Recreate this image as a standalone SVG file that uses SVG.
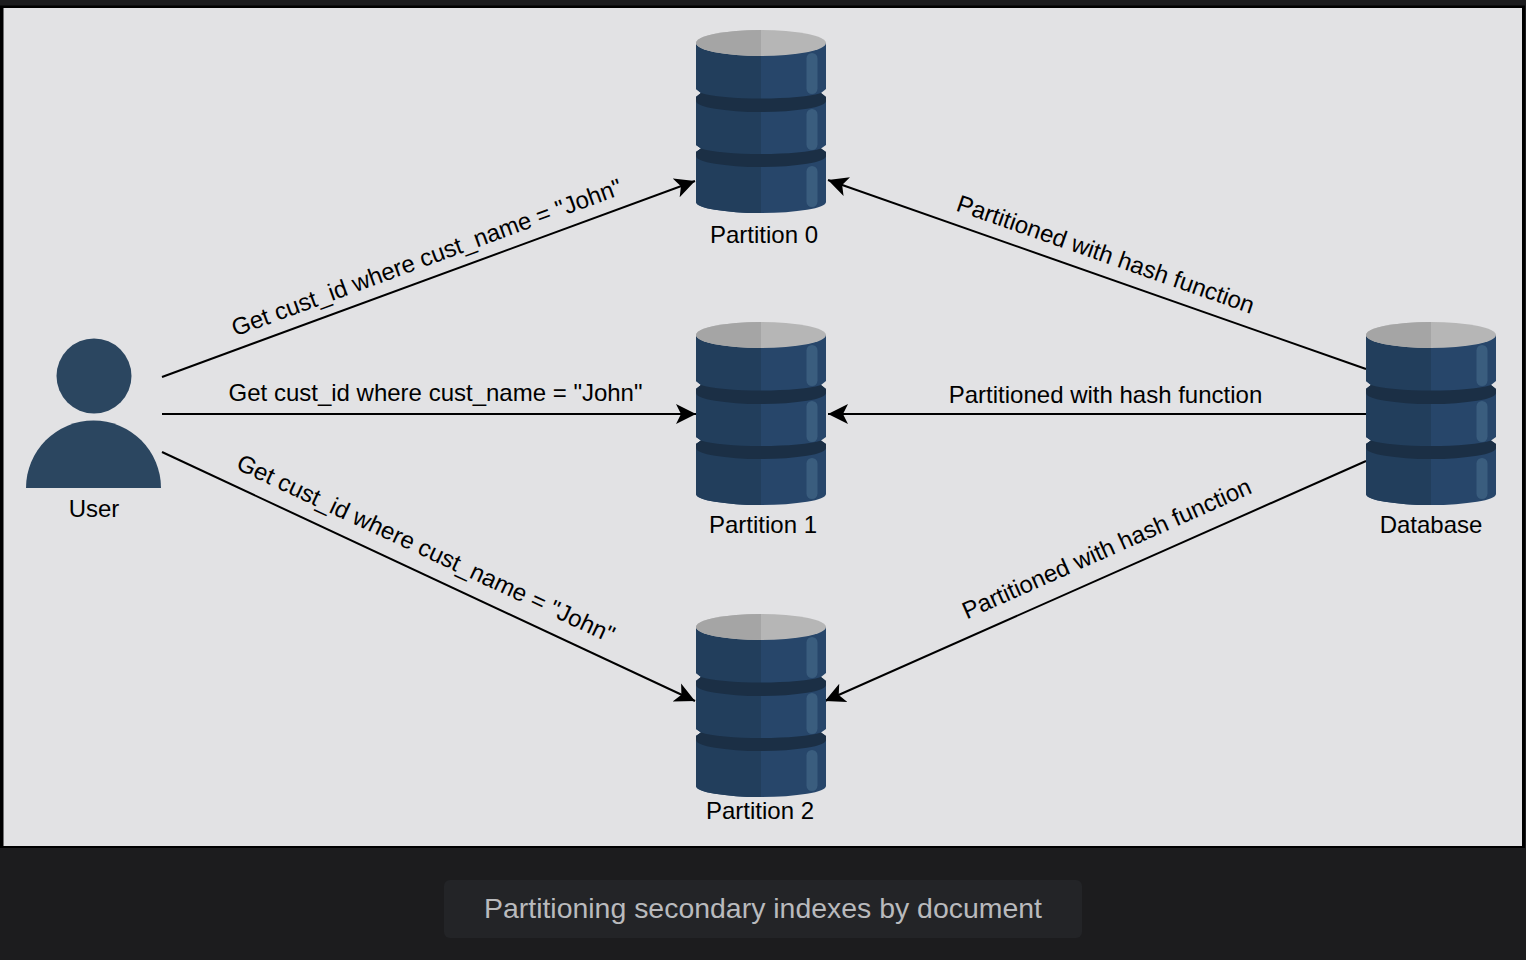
<svg xmlns="http://www.w3.org/2000/svg" width="1526" height="960" viewBox="0 0 1526 960">
<style>
text{font-family:"Liberation Sans",Arial,sans-serif;font-size:24px;fill:#000;text-anchor:middle}
.c{fill:none;stroke:#000;stroke-width:2;marker-end:url(#a)}
.hl{fill:#3a5d7e}
.band{fill:#1b2f45}
</style>
<defs>
<marker id="a" markerUnits="userSpaceOnUse" markerWidth="24" markerHeight="22" refX="20" refY="10" orient="auto" viewBox="0 0 24 20"><path d="M20 10 L0 0 L5 10 L0 20 Z" fill="#000"/></marker>
<symbol id="cyl" width="130" height="184" viewBox="0 0 130 184" overflow="visible">
<path d="M0 13V59L5 63L0 67V115L5 118.500L0 122V172A65 11 0 0 0 130 172V122L125 118.500L130 115V67L125 63L130 59V13Z" fill="#27466a"/>
<path d="M0 13V59L5 63L0 67V115L5 118.500L0 122V172A65 11 0 0 0 65 183V13Z" fill="#223e5c"/>
<path class="band" d="M0 67L5 63A65 9 0 0 0 125 63L130 67V71A65 11 0 0 1 0 71Z"/>
<path class="band" d="M0 122L5 118.500A65 9 0 0 0 125 118.500L130 122V126A65 11 0 0 1 0 126Z"/>
<rect class="hl" x="110.500" y="23" width="11" height="41" rx="5.500"/>
<rect class="hl" x="110.500" y="79" width="11" height="41" rx="5.500"/>
<rect class="hl" x="110.500" y="136" width="11" height="41" rx="5.500"/>
<ellipse cx="65" cy="13" rx="65" ry="13" fill="#b6b6b6"/>
<path d="M65 0A65 13 0 0 0 65 26Z" fill="#a5a5a5"/>
</symbol>
</defs>
<rect width="1526" height="960" fill="#1c1c1e"/>
<rect x="0" y="5.500" width="1525" height="842.500" fill="#000"/>
<rect x="3.500" y="8" width="1518.500" height="838" fill="#e2e2e4"/>
<g id="connectors">
<path class="c" d="M162 377L695 181"/>
<path class="c" d="M162 414H696"/>
<path class="c" d="M162 452L695 701"/>
<path class="c" d="M1366 369L828 180"/>
<path class="c" d="M1366 414H828"/>
<path class="c" d="M1366 461L825 701"/>
<text transform="translate(429.500 265) rotate(-20.200)">Get cust_id where cust_name = "John"</text>
<text x="435.500" y="401">Get cust_id where cust_name = "John"</text>
<text transform="translate(422.500 556) rotate(25)">Get cust_id where cust_name = "John"</text>
<text transform="translate(1103 262) rotate(19.300)">Partitioned with hash function</text>
<text x="1105.500" y="403">Partitioned with hash function</text>
<text transform="translate(1110 556) rotate(-23.900)">Partitioned with hash function</text>
</g>
<g id="user">
<circle cx="94" cy="376" r="37.500" fill="#2b4660"/>
<path d="M26 488A67.500 67.500 0 0 1 161 488Z" fill="#2b4660"/>
<text x="94" y="517">User</text>
</g>
<g id="partition0"><use href="#cyl" x="696" y="30"/><text x="764" y="243">Partition 0</text></g>
<g id="partition1"><use href="#cyl" x="696" y="322"/><text x="763" y="533">Partition 1</text></g>
<g id="partition2"><use href="#cyl" x="696" y="614"/><text x="760" y="819">Partition 2</text></g>
<g id="database"><use href="#cyl" x="1366" y="322"/><text x="1431" y="533">Database</text></g>
<g id="caption">
<rect x="444" y="880" width="638" height="58" rx="6" fill="#232427"/>
<text x="763" y="918" style="font-size:28.450px;fill:#b9babd">Partitioning secondary indexes by document</text>
</g>
</svg>
